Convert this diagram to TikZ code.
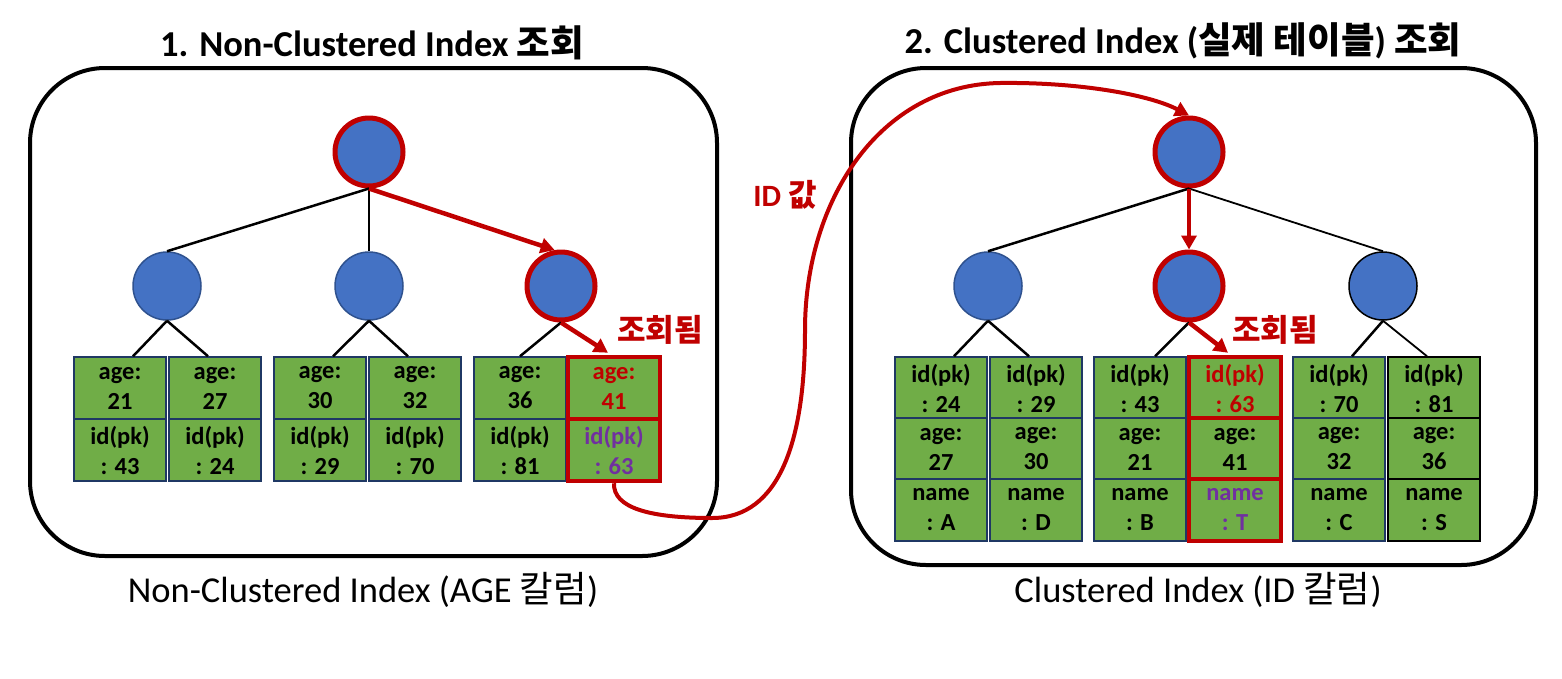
\documentclass[tikz,border=0pt]{standalone}
\usepackage{fontspec}
\setmainfont{Carlito}
\newfontfamily\kr{Noto Sans CJK KR}
\usetikzlibrary{arrows.meta,calc}
\definecolor{cgreen}{HTML}{70AD47}
\definecolor{cnavy}{HTML}{1F3864}
\definecolor{cblue}{HTML}{4472C4}
\definecolor{cbdark}{HTML}{2F528F}
\definecolor{cred}{HTML}{C00000}
\definecolor{cpurple}{HTML}{7030A0}
\tikzset{
  circ/.style={circle,fill=cblue,draw=cbdark,line width=1.5pt,minimum size=68pt,inner sep=0pt},
  redcirc/.style={circ,draw=cred,line width=5pt},
  cell/.style={rectangle,fill=cgreen,draw=cnavy,line width=1.5pt,minimum width=92pt,minimum height=62pt,inner sep=0pt,align=center,font=\fontsize{24.5}{30}\selectfont\bfseries},
  rcell/.style={cell,draw=cred,line width=4.5pt},
  tline/.style={draw=black,line width=2.5pt},
  rarrow/.style={draw=cred,line width=4.5pt,-{Triangle[length=14pt,width=15pt]}},
  frame/.style={draw=black,line width=4pt,rounded corners=75pt},
  title/.style={font=\fontsize{36.5}{42}\selectfont\bfseries},
  sub/.style={font=\fontsize{36.5}{42}\selectfont},
  rlabel/.style={text=cred,font=\fontsize{31}{36}\selectfont\bfseries}
}
\begin{document}
\begin{tikzpicture}[x=1pt,y=-1pt]
\useasboundingbox (0,0) rectangle (1562,678);
% frames
\draw[frame] (30,68) rectangle (717,556);
\draw[frame] (851,68) rectangle (1536,565);
% titles
\node[title] (t1) at (372,43) {1. Non-Clustered Index {\kr 조회}};
\node[title] (t2) at (1183,41) {2. Clustered Index ({\kr 실제 테이블}) {\kr 조회}};
\node[sub] (s1) at (363,590) {Non-Clustered Index (AGE {\kr 칼럼})};
\node[sub] (s2) at (1198,590) {Clustered Index (ID {\kr 칼럼})};
% left tree
\node[redcirc] (Lr) at (369,152) {};
\node[circ] (La) at (167,286) {};
\node[circ] (Lb) at (369,286) {};
\node[redcirc] (Lc) at (561,286) {};
\node[cell] (L1a) at (120,388) {age:\\21};
\node[cell] (L1b) at (120,450) {id(pk)\\: 43};
\node[cell] (L2a) at (215,388) {age:\\27};
\node[cell] (L2b) at (215,450) {id(pk)\\: 24};
\node[cell] (L3a) at (320,388) {age:\\30};
\node[cell] (L3b) at (320,450) {id(pk)\\: 29};
\node[cell] (L4a) at (415,388) {age:\\32};
\node[cell] (L4b) at (415,450) {id(pk)\\: 70};
\node[cell] (L5a) at (520,388) {age:\\36};
\node[cell] (L5b) at (520,450) {id(pk)\\: 81};
\node[rcell,text=cred] (L6a) at (614,388) {age:\\41};
\node[rcell,text=cpurple] (L6b) at (614,450) {id(pk)\\: 63};
\draw[tline] (Lr.south) -- (La.north);
\draw[tline] (Lr.south) -- (Lb.north);
\draw[rarrow] (Lr.south) -- (Lc.100);
\draw[tline] (La.south) -- ($(L1a.north)+(13,0)$);
\draw[tline] (La.south) -- ($(L2a.north)+(-7,0)$);
\draw[tline] (Lb.south) -- ($(L3a.north)+(13,0)$);
\draw[tline] (Lb.south) -- ($(L4a.north)+(-7,0)$);
\draw[tline] (Lc.south) -- (L5a.north);
\draw[rarrow] (Lc.south) -- ($(L6a.north)+(-6,-2)$);
\node[rlabel] (q1) at (660,330) {\kr 조회됨};
% right tree
\node[redcirc] (Rr) at (1189,152) {};
\node[circ] (Ra) at (988,286) {};
\node[redcirc] (Rb) at (1189,286) {};
\node[circ,draw=black] (Rc) at (1383,286) {};
\node[cell] (R1a) at (941,388) {id(pk)\\: 24};
\node[cell] (R1b) at (941,449) {age:\\27};
\node[cell] (R1c) at (941,510) {name\\: A};
\node[cell] (R2a) at (1036,388) {id(pk)\\: 29};
\node[cell] (R2b) at (1036,449) {age:\\30};
\node[cell] (R2c) at (1036,510) {name\\: D};
\node[cell] (R3a) at (1140,388) {id(pk)\\: 43};
\node[cell] (R3b) at (1140,449) {age:\\21};
\node[cell] (R3c) at (1140,510) {name\\: B};
\node[rcell,text=cred] (R4a) at (1235,388) {id(pk)\\: 63};
\node[rcell] (R4b) at (1235,449) {age:\\41};
\node[rcell,text=cpurple] (R4c) at (1235,510) {name\\: T};
\node[cell] (R5a) at (1339,388) {id(pk)\\: 70};
\node[cell] (R5b) at (1339,449) {age:\\32};
\node[cell] (R5c) at (1339,510) {name\\: C};
\node[cell,draw=black] (R6a) at (1434,388) {id(pk)\\: 81};
\node[cell,draw=black] (R6b) at (1434,449) {age:\\36};
\node[cell,draw=black] (R6c) at (1434,510) {name\\: S};
\draw[tline] (Rr.south) -- (Ra.north);
\draw[tline,line width=1.8pt] (Rr.south) -- (Rc.north);
\draw[rarrow] (Rr.south) -- (Rb.north);
\draw[tline] (Ra.south) -- ($(R1a.north)+(13,0)$);
\draw[tline] (Ra.south) -- ($(R2a.north)+(-7,0)$);
\draw[tline] (Rb.south) -- ($(R3a.north)+(15,0)$);
\draw[rarrow] (Rb.south) -- ($(R4a.north)+(-7,-2)$);
\draw[tline] (Rc.south) -- ($(R5a.north)+(13,0)$);
\draw[tline,line width=1.8pt] (Rc.south) -- ($(R6a.north)+(-7,0)$);
\node[rlabel] (q2) at (1275,330) {\kr 조회됨};
% connecting curve
\coordinate (c1) at (712,518);
\coordinate (c2) at (805,330);
\coordinate (c3) at (1000,83);
\draw[draw=cred,line width=4pt,-{Triangle[length=14pt,width=15pt]}]
  (L6b.south) .. controls (613,508) and (650,518) .. (c1)
  .. controls (780,518) and (805,440) .. (c2)
  .. controls (805,200) and (880,85) .. (c3)
  .. controls (1080,82) and (1150,95) .. (Rr.north);
\node[rlabel] (idv) at (785,195) {ID {\kr 값}};
\end{tikzpicture}
\end{document}
